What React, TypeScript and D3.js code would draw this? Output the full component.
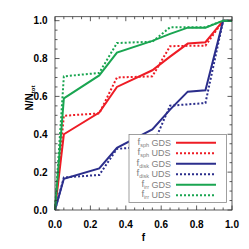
import React from 'react';
import * as d3 from 'd3';

// fraction bins (x) and cumulative N/Ntot (y) for each morphology
const fBins = [0, 0.05, 0.25, 0.35, 0.55, 0.65, 0.75, 0.85, 0.95, 1.0];

const sphGDS = [0, 0.40, 0.515, 0.65, 0.738, 0.81, 0.879, 0.886, 1.0, 1.0];
const sphUDS = [0, 0.498, 0.51, 0.70, 0.706, 0.865, 0.867, 0.868, 1.0, 1.0];
const diskGDS = [0, 0.165, 0.22, 0.328, 0.426, 0.53, 0.625, 0.632, 1.0, 1.0];
const diskUDS = [0, 0.172, 0.185, 0.323, 0.336, 0.551, 0.558, 0.565, 1.0, 1.0];
const irrGDS = [0, 0.59, 0.711, 0.831, 0.893, 0.93, 0.963, 0.963, 1.0, 1.0];
const irrUDS = [0, 0.706, 0.724, 0.882, 0.889, 0.965, 0.965, 0.965, 1.0, 1.0];

const yTicks = [0, 0.2, 0.4, 0.6, 0.8, 1.0];
const xTicks = [0, 0.2, 0.4, 0.6, 0.8, 1.0];

const series = [
  {sub: 'sph', survey: 'GDS', values: sphGDS, color: '#ee1c25', dotted: false},
  {sub: 'sph', survey: 'UDS', values: sphUDS, color: '#ee1c25', dotted: true},
  {sub: 'disk', survey: 'GDS', values: diskGDS, color: '#2b2e8c', dotted: false},
  {sub: 'disk', survey: 'UDS', values: diskUDS, color: '#2b2e8c', dotted: true},
  {sub: 'irr', survey: 'GDS', values: irrGDS, color: '#1aa551', dotted: false},
  {sub: 'irr', survey: 'UDS', values: irrUDS, color: '#1aa551', dotted: true},
];

const App: React.FC = () => {
  const width = 249;
  const height = 249;
  const left = 55, right = 232, top = 16.7, bottom = 210;

  const x = d3.scaleLinear().domain([0, 1]).range([left, right]);
  const y = d3.scaleLinear().domain([0, 1.021]).range([bottom, top]);

  const line = d3.line<number>()
      .x((_, i) => x(fBins[i]))
      .y(d => y(d));

  const minor = d3.range(0, 1.0001, 0.05);
  const font = '"Liberation Sans", Arial, sans-serif';

  return (
      <svg width={width} height={height}
           style={{position: 'absolute', left: 0, top: 0, background: '#fff'}}>
        {series.map((s, i) => (
            <path key={i} d={line(s.values) || ''} fill="none" stroke={s.color}
                  strokeWidth={2}
                  strokeDasharray={s.dotted ? '2,2' : undefined}/>
        ))}

        {/* frame */}
        <rect x={left} y={top} width={right - left} height={bottom - top}
              fill="none" stroke="#333" strokeWidth={0.8}/>

        {/* ticks on all four sides */}
        {minor.map((t, i) => {
          const major = Math.abs(t * 5 - Math.round(t * 5)) < 1e-6;
          const len = major ? 4.5 : 2.5;
          return (
              <g key={i} stroke="#333" strokeWidth={0.8}>
                <line x1={x(t)} x2={x(t)} y1={bottom} y2={bottom - len}/>
                <line x1={x(t)} x2={x(t)} y1={top} y2={top + len}/>
                <line x1={left} x2={left + len} y1={y(t)} y2={y(t)}/>
                <line x1={right} x2={right - len} y1={y(t)} y2={y(t)}/>
              </g>
          );
        })}

        {xTicks.map(t => (
            <text key={t} x={x(t)} y={227.5} textAnchor="middle"
                  fontFamily={font} fontWeight="bold" fontSize={10}>
              {t.toFixed(1)}
            </text>
        ))}
        {yTicks.map(t => (
            <text key={t} x={47.5} y={y(t) + 3.8} textAnchor="end"
                  fontFamily={font} fontWeight="bold" fontSize={10}>
              {t.toFixed(1)}
            </text>
        ))}

        <text x={x(0.5)} y={240.5} textAnchor="middle" fontFamily={font}
              fontWeight="bold" fontSize={10}>f</text>
        <text transform="translate(33,98) rotate(-90)" textAnchor="middle"
              fontFamily={font} fontWeight="bold" fontSize={10}>
          N/N<tspan fontSize={6} dy={2}>tot</tspan>
        </text>

        {/* legend */}
        <rect x={129} y={134.5} width={97.5} height={68} fill="#fff"
              stroke="#888" strokeWidth={0.8}/>
        {series.map((s, i) => {
          const ly = 142.7 + i * 10.5;
          return (
              <g key={i}>
                <text x={149} y={ly + 2} textAnchor="end" fontFamily={font}
                      fontSize={9.5} fill="#808080">
                  f<tspan fontSize={5.5} dy={2}>{s.sub}</tspan>
                </text>
                <text x={151.5} y={ly + 3} fontFamily={font} fontSize={9}
                      fill="#808080">{s.survey}</text>
                <line x1={176} x2={216} y1={ly} y2={ly} stroke={s.color}
                      strokeWidth={2}
                      strokeDasharray={s.dotted ? '2,2' : undefined}/>
              </g>
          );
        })}
      </svg>
  );
};

export default App;
